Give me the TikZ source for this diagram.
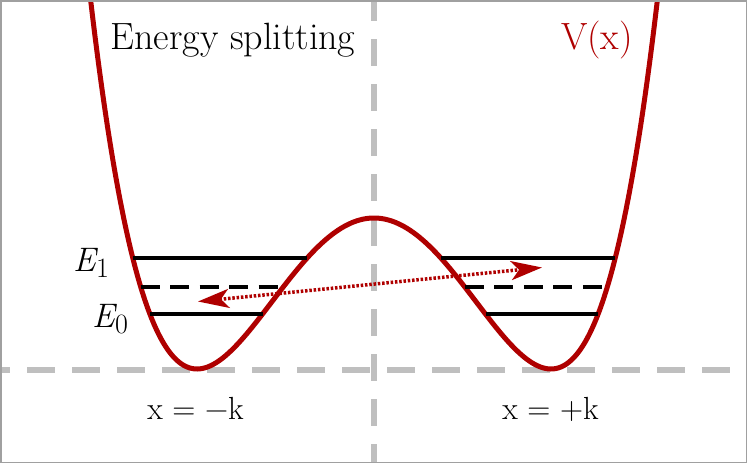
\documentclass[tikz,border=0pt]{standalone}
\usepackage{fontspec}
\usetikzlibrary{arrows.meta}
\definecolor{cred}{RGB}{175,0,0}
\definecolor{cgray}{RGB}{191,191,191}
\definecolor{cframe}{RGB}{160,160,160}
\newcommand{\enlev}[1]{{\itshape E}\kern0.5pt\raisebox{-6pt}{\fontsize{28}{30}\selectfont #1}}
\begin{document}
\begin{tikzpicture}[x=1pt,y=-1pt,
  guide/.style={cgray,line width=6pt,dash pattern=on 27pt off 18pt},
  level/.style={black,line width=3.2pt},
  midlevel/.style={black,line width=3.2pt,dash pattern=on 19pt off 10.5pt},
  pot/.style={cred,line width=5pt},
  tunnel/.style={cred,line width=3.5pt,dash pattern=on 2.5pt off 1.8pt,
    {Stealth[length=31pt,width=19pt,inset=8pt]}-{Stealth[length=31pt,width=19pt,inset=8pt]}},
  lbl/.style={font=\fontsize{38}{44}\selectfont,inner sep=0pt,anchor=base},
  small/.style={font=\fontsize{32}{38}\selectfont,inner sep=0pt,anchor=base},
  elbl/.style={font=\fontsize{34}{40}\selectfont,inner sep=0pt,anchor=base west}]
\useasboundingbox (0,0) rectangle (747,463);
\begin{scope}
\clip (0,0) rectangle (747,463);
\draw[guide] (374,-6) -- (374,470);
\draw[guide,dash pattern=on 28pt off 17pt] (-18,369.5) -- (760,369.5);
\draw[pot] plot[domain=-1.62:1.62,samples=220,smooth] ({374+177*\x},{369-151*(\x*\x-1)^2});
\end{scope}
\draw[cframe,line width=1.5pt] (0.75,0.75) rectangle (746.25,462.25);
% energy levels
\coordinate (e1a) at (132.8,258); \coordinate (e1b) at (307.2,258);
\coordinate (e1c) at (440.8,258); \coordinate (e1d) at (615.2,258);
\coordinate (mda) at (140.7,287); \coordinate (mdb) at (283.2,287);
\coordinate (mdc) at (464.8,287); \coordinate (mdd) at (607.3,287);
\coordinate (e0a) at (149.9,314); \coordinate (e0b) at (262.5,314);
\coordinate (e0c) at (485.5,314); \coordinate (e0d) at (598.1,314);
\draw[level] (e1a) -- (e1b); \draw[level] (e1c) -- (e1d);
\draw[midlevel] (mda) -- (mdb); \draw[midlevel] (mdc) -- (mdd);
\draw[level] (e0a) -- (e0b); \draw[level] (e0c) -- (e0d);
% tunnelling arrow
\coordinate (tl) at (198,301.5);
\coordinate (tr) at (542,267.5);
\draw[tunnel] (tl) -- (tr);
% labels
\node[lbl] (title) at (233,49) {Energy splitting};
\node[lbl,text=cred] (vx) at (597,49) {V(x)};
\node[small] (xm) at (195.5,419) {x = −k};
\node[small] (xp) at (550.5,419) {x = +k};
\node[elbl] (E1) at (73,271) {\enlev{1}};
\node[elbl] (E0) at (92,327) {\enlev{0}};
\end{tikzpicture}
\end{document}
